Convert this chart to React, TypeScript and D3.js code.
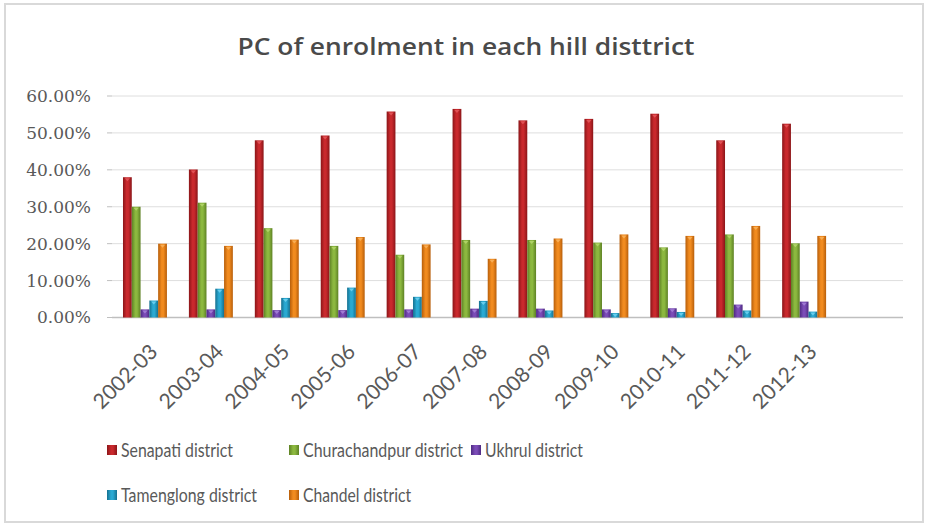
import React from "react";
import * as d3 from "d3";

const categories = ["2002-03", "2003-04", "2004-05", "2005-06", "2006-07", "2007-08", "2008-09", "2009-10", "2010-11", "2011-12", "2012-13"];
const emptySlot = [""];
const seriesNames = ["Senapati district", "Churachandpur district", "Ukhrul district", "Tamenglong district", "Chandel district"];
const senapati = [38.0, 40.1, 48.0, 49.3, 55.8, 56.5, 53.4, 53.8, 55.2, 48.0, 52.5];
const churachandpur = [30.0, 31.1, 24.2, 19.4, 17.0, 21.0, 21.0, 20.3, 19.0, 22.5, 20.1];
const ukhrul = [2.2, 2.2, 2.0, 2.0, 2.2, 2.4, 2.4, 2.2, 2.5, 3.5, 4.3];
const tamenglong = [4.6, 7.8, 5.3, 8.1, 5.6, 4.5, 1.9, 1.2, 1.5, 1.9, 1.6];
const chandel = [20.0, 19.4, 21.1, 21.8, 19.8, 15.9, 21.4, 22.5, 22.1, 24.8, 22.1];
const yTicks = [0, 10, 20, 30, 40, 50, 60];
const title = "PC of enrolment in each hill disttrict";

const seriesValues = [senapati, churachandpur, ukhrul, tamenglong, chandel];
const colors = [
  { dark: "#8a1518", mid: "#c9292d", light: "#e2565a" },
  { dark: "#5d8124", mid: "#8cb83f", light: "#b2d56a" },
  { dark: "#4e2a82", mid: "#7b4cb7", light: "#a47fd6" },
  { dark: "#15708f", mid: "#2aa9d2", light: "#6fd0ee" },
  { dark: "#b75e0a", mid: "#f18b1f", light: "#f8b05a" },
];

const W = 927;
const H = 526;
const plot = { left: 112, right: 903, top: 96, bottom: 317.5 };

export default function App() {
  const x = d3.scaleBand<string>().domain([...categories, ...emptySlot]).range([plot.left, plot.right]).paddingInner(0).paddingOuter(0);
  const xs = d3.scaleBand<number>().domain(d3.range(seriesNames.length)).range([0, x.bandwidth()]).paddingInner(0).paddingOuter(1.25);
  const y = d3.scaleLinear().domain([0, 60]).range([plot.bottom, plot.top]);
  const fmt = (v: number) => v.toFixed(2) + "%";
  const bw = xs.bandwidth();

  const legendItems = [
    { i: 0, x: 107, y: 450, len: 112 },
    { i: 1, x: 289, y: 450, len: 160 },
    { i: 2, x: 471, y: 450, len: 98 },
    { i: 3, x: 107, y: 495, len: 136 },
    { i: 4, x: 289, y: 495, len: 108 },
  ];

  return (
    <svg width={W} height={H} style={{ position: "absolute", left: 0, top: 0, background: "#fff" }}>
      <defs>
        {colors.map((c, i) => (
          <linearGradient key={i} id={`g${i}`} x1="0" x2="1" y1="0" y2="0">
            <stop offset="0%" stopColor={c.dark} />
            <stop offset="40%" stopColor={c.mid} />
            <stop offset="60%" stopColor={c.mid} />
            <stop offset="100%" stopColor={c.dark} />
          </linearGradient>
        ))}
      </defs>
      <rect x={5} y={4} width={918} height={518} fill="#fff" stroke="#d9d9d9" strokeWidth={2} />
      <text x={466} y={55} textAnchor="middle" fontFamily="'Open Sans', Lato, sans-serif" fontWeight={600} fontSize={24} fill="#4a4a4a" textLength={457} lengthAdjust="spacingAndGlyphs">{title}</text>
      {yTicks.map((t) => (
        <g key={t}>
          <line x1={plot.left} x2={plot.right} y1={y(t)} y2={y(t)} stroke={t === 0 ? "#bfbfbf" : "#dedede"} strokeWidth={t === 0 ? 1.5 : 1} />
          <line x1={plot.left - 5} x2={plot.left} y1={y(t)} y2={y(t)} stroke="#bfbfbf" />
          <text x={91} y={y(t)} dy="0.35em" textAnchor="end" fontFamily="'DejaVu Serif', serif" fontSize={17} fill="#595959">{fmt(t)}</text>
        </g>
      ))}
      {categories.map((cat, ci) => (
        <g key={cat} transform={`translate(${x(cat)},0)`}>
          {seriesValues.map((vals, si) => {
            const bx = xs(si)!;
            const by = y(vals[ci]);
            const bh = plot.bottom - by;
            return (
              <g key={si}>
                <rect x={bx} y={by} width={bw} height={bh} fill={`url(#g${si})`} />
                <path d={`M${bx + bw * 0.2},${by + 1} L${bx + bw * 0.8},${by + 1} L${bx + bw / 2},${by + Math.min(4, bh)} Z`} fill={colors[si].light} opacity={0.9} />
              </g>
            );
          })}
        </g>
      ))}
      {categories.map((cat) => {
        const cx = x(cat)! + x.bandwidth() / 2 + 8;
        const cy = 347;
        return (
          <text key={cat} transform={`translate(${cx},${cy}) rotate(-45)`} textAnchor="end" dominantBaseline="central" fontFamily="Lato, 'Open Sans', sans-serif" fontSize={21} fill="#595959">{cat}</text>
        );
      })}
      {legendItems.map((it) => (
        <g key={it.i}>
          <rect x={it.x} y={it.y - 5} width={10} height={10} fill={`url(#g${it.i})`} />
          <text x={it.x + 14} y={it.y} dy="0.36em" fontFamily="Lato, 'Open Sans', sans-serif" fontSize={18.5} fill="#595959" textLength={it.len} lengthAdjust="spacingAndGlyphs">{seriesNames[it.i]}</text>
        </g>
      ))}
    </svg>
  );
}
